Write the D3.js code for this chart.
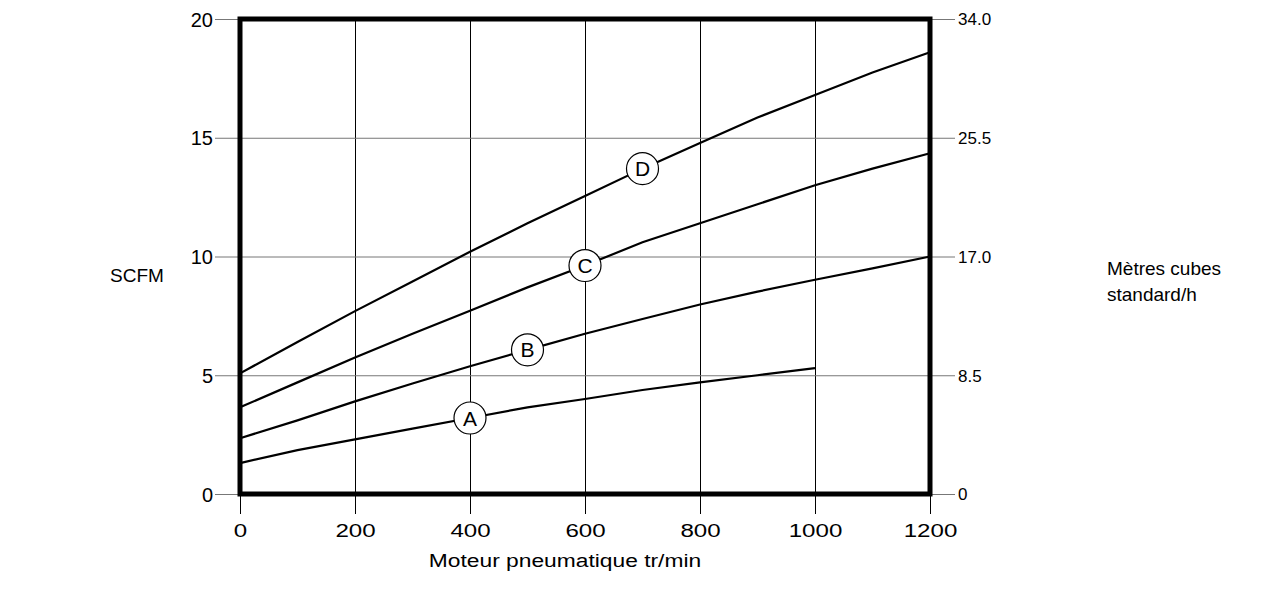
<!DOCTYPE html>
<html>
<head>
<meta charset="utf-8">
<script src="https://cdn.jsdelivr.net/npm/d3@7"></script>
<style>
body { margin: 0; background: #fff; }
text { font-family: "Liberation Sans", Arial, sans-serif; fill: #000; }
</style>
</head>
<body>
<div id="chart"></div>
<script>
// data
var rpm = [0, 100, 200, 300, 400, 500, 600, 700, 800, 900, 1000, 1100, 1200];
var curveA = [1.3, 1.85, 2.3, 2.75, 3.2, 3.65, 4.0, 4.38, 4.7, 5.0, 5.3];
var curveB = [2.35, 3.1, 3.9, 4.65, 5.38, 6.07, 6.75, 7.37, 7.98, 8.52, 9.02, 9.5, 10.0];
var curveC = [3.65, 4.7, 5.75, 6.75, 7.72, 8.7, 9.62, 10.6, 11.4, 12.2, 13.0, 13.7, 14.35];
var curveD = [5.08, 6.4, 7.7, 8.95, 10.2, 11.4, 12.55, 13.7, 14.78, 15.85, 16.8, 17.75, 18.6];
var curveNames = ["A", "B", "C", "D"];
var labelRpm = [400, 500, 600, 700];
var xTicks = [0, 200, 400, 600, 800, 1000, 1200];
var yTicks = [0, 5, 10, 15, 20];
var rightTickLabels = ["0", "8.5", "17.0", "25.5", "34.0"];

//setting dimensions
var margin = {top: 19, left: 240},
width = 690,
height = 475;

var svg = d3.select("#chart")
.append("svg")
.attr("width", 1279)
.attr("height", 600);

var g = svg.append("g")
.attr("transform", "translate(" + margin.left + "," + margin.top + ")");

//scales
var x = d3.scaleLinear().domain([0, 1200]).range([0, width]);
var y = d3.scaleLinear().domain([0, 20]).range([height, 0]);

//vertical grid lines
g.append("g")
.attr("transform", "translate(0," + height + ")")
.call(d3.axisBottom(x).tickValues(xTicks).tickSize(-height).tickFormat(""))
.call(function(a) { a.select(".domain").remove(); })
.selectAll(".tick line").attr("stroke", "#000").attr("stroke-width", 1);

//bottom ticks + labels (labels drawn a bit wide, like the original)
g.append("g")
.attr("transform", "translate(0," + height + ")")
.call(d3.axisBottom(x).tickValues(xTicks).tickSize(20).tickPadding(10).tickFormat(d3.format("d")))
.call(function(a) { a.select(".domain").remove(); })
.call(function(a) {
  a.selectAll(".tick line").attr("stroke", "#000");
  a.selectAll(".tick text")
    .style("font-size", "19px")
    .attr("transform", "scale(1.27,1)");
});

//horizontal grid lines + left ticks
g.append("g")
.call(d3.axisLeft(y).tickValues(yTicks).tickSize(25).tickPadding(2))
.call(function(a) { a.select(".domain").remove(); })
.call(function(a) {
  a.selectAll(".tick line").attr("stroke", "#777").attr("x1", -25).attr("x2", width);
  a.selectAll(".tick text").style("font-size", "20px").attr("dy", "0.35em");
});

//right axis
g.append("g")
.attr("transform", "translate(" + width + ",0)")
.call(d3.axisRight(y).tickValues(yTicks).tickSize(25).tickPadding(3)
  .tickFormat(function(d, i) { return rightTickLabels[i]; }))
.call(function(a) { a.select(".domain").remove(); })
.call(function(a) {
  a.selectAll(".tick line").attr("stroke", "#777");
  a.selectAll(".tick text").style("font-size", "17px").attr("dy", "0.35em");
});

//curves
var curves = [curveA, curveB, curveC, curveD];
var line = d3.line()
.x(function(d, i) { return x(rpm[i]); })
.y(function(d) { return y(d); });

g.selectAll(".curve")
.data(curves)
.enter().append("path")
.attr("class", "curve")
.attr("d", line)
.attr("fill", "none")
.attr("stroke", "#000")
.attr("stroke-width", 2.2);

//heavy frame
g.append("rect")
.attr("x", 0).attr("y", 0)
.attr("width", width).attr("height", height)
.attr("fill", "none")
.attr("stroke", "#000")
.attr("stroke-width", 5);

//circled curve labels
var labels = g.selectAll(".lbl")
.data(curveNames)
.enter().append("g")
.attr("class", "lbl")
.attr("transform", function(d, i) {
  var idx = rpm.indexOf(labelRpm[i]);
  return "translate(" + x(labelRpm[i]) + "," + y(curves[i][idx]) + ")";
});
labels.append("circle")
.attr("r", 16)
.attr("fill", "#fff")
.attr("stroke", "#000")
.attr("stroke-width", 1.2);
labels.append("text")
.attr("text-anchor", "middle")
.attr("dy", "0.36em")
.style("font-size", "21px")
.text(function(d) { return d; });

//axis titles
svg.append("text")
.attr("transform", "translate(565,567) scale(1.2,1)")
.attr("text-anchor", "middle")
.style("font-size", "19px")
.text("Moteur pneumatique tr/min");

svg.append("text")
.attr("x", 110).attr("y", 282)
.style("font-size", "19px")
.text("SCFM");

svg.append("text")
.attr("x", 1107).attr("y", 275)
.style("font-size", "19px")
.text("Mètres cubes");
svg.append("text")
.attr("x", 1107).attr("y", 301)
.style("font-size", "19px")
.text("standard/h");
</script>
</body>
</html>
